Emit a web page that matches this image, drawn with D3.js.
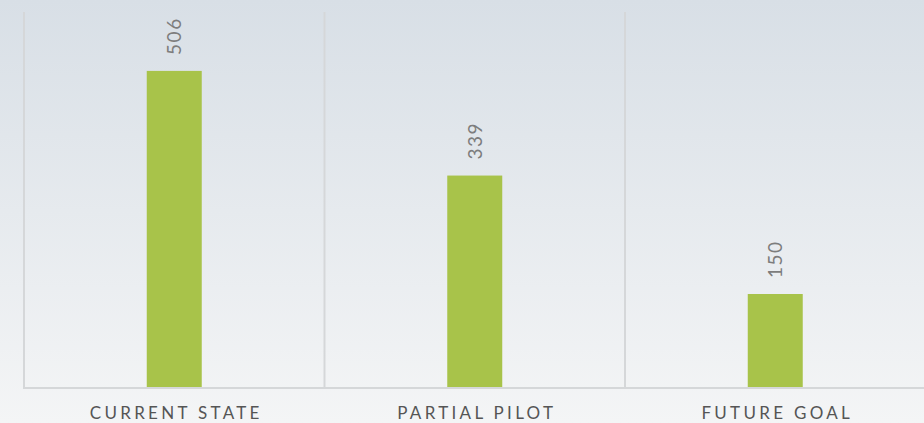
<!DOCTYPE html>
<html>
<head>
<meta charset="utf-8">
<script src="https://cdn.jsdelivr.net/npm/d3@7"></script>
<style>
  html, body { margin: 0; padding: 0; }
  body { width: 924px; height: 423px; overflow: hidden; }
  svg { display: block; }
  .value-label { font-family: Lato, "Open Sans", sans-serif; font-size: 19px; fill: #7d7d7d; letter-spacing: 1.5px; }
  .cat-label { font-family: Lato, "Open Sans", sans-serif; font-size: 17px; fill: #555; letter-spacing: 3.3px; }
</style>
</head>
<body>
<svg id="chart"></svg>
<script>
const categories = ['CURRENT STATE', 'PARTIAL PILOT', 'FUTURE GOAL'];
const values = [506, 339, 150];
const yDomain = [0, 600];

const svg = d3.select('#chart')
  .attr('width', 924)
  .attr('height', 423);

const margin = {top: 12, right: -1.5, bottom: 35, left: 24},
    width = 924 - margin.left - margin.right,
    height = 423 - margin.top - margin.bottom;

// background gradient
const defs = svg.append('defs');
const grad = defs.append('linearGradient')
  .attr('id', 'bg')
  .attr('x1', 0).attr('y1', 0).attr('x2', 0).attr('y2', 1);
grad.append('stop').attr('offset', '0%').attr('stop-color', '#d8dfe6');
grad.append('stop').attr('offset', '100%').attr('stop-color', '#f4f5f6');

svg.append('rect')
  .attr('width', 924)
  .attr('height', 423)
  .attr('fill', 'url(#bg)');

const g = svg.append('g')
  .attr('transform', 'translate(' + margin.left + ',' + margin.top + ')');

const x = d3.scaleBand()
  .domain(categories)
  .range([0, width])
  .padding(0);

const y = d3.scaleLinear()
  .domain(yDomain)
  .range([height, 0]);

const barW = x.bandwidth() * 0.183;

// vertical grid lines at band edges
g.selectAll('.grid')
  .data(categories)
  .enter()
  .append('line')
  .attr('class', 'grid')
  .attr('x1', d => x(d))
  .attr('x2', d => x(d))
  .attr('y1', 0)
  .attr('y2', height)
  .attr('stroke', '#d5d7d9')
  .attr('stroke-width', 2);

// bottom axis line
g.append('line')
  .attr('x1', -1)
  .attr('x2', width)
  .attr('y1', height)
  .attr('y2', height)
  .attr('stroke', '#d5d7d9')
  .attr('stroke-width', 2);

// bars
g.selectAll('.bar')
  .data(values)
  .enter()
  .append('rect')
  .attr('class', 'bar')
  .attr('x', (d, i) => x(categories[i]) + x.bandwidth() / 2 - barW / 2)
  .attr('y', d => y(d))
  .attr('width', barW)
  .attr('height', d => height - y(d) - 1)
  .attr('fill', '#a8c34a');

// value labels (rotated)
g.selectAll('.value-label')
  .data(values)
  .enter()
  .append('text')
  .attr('class', 'value-label')
  .attr('transform', (d, i) => 'translate(' + (x(categories[i]) + x.bandwidth() / 2 + 7) + ',' + (y(d) - 16) + ') rotate(-90)')
  .attr('text-anchor', 'start')
  .text(d => d);

// category labels
g.selectAll('.cat-label')
  .data(categories)
  .enter()
  .append('text')
  .attr('class', 'cat-label')
  .attr('x', d => x(d) + x.bandwidth() / 2 + 2)
  .attr('y', height + 31)
  .attr('text-anchor', 'middle')
  .text(d => d);
</script>
</body>
</html>
